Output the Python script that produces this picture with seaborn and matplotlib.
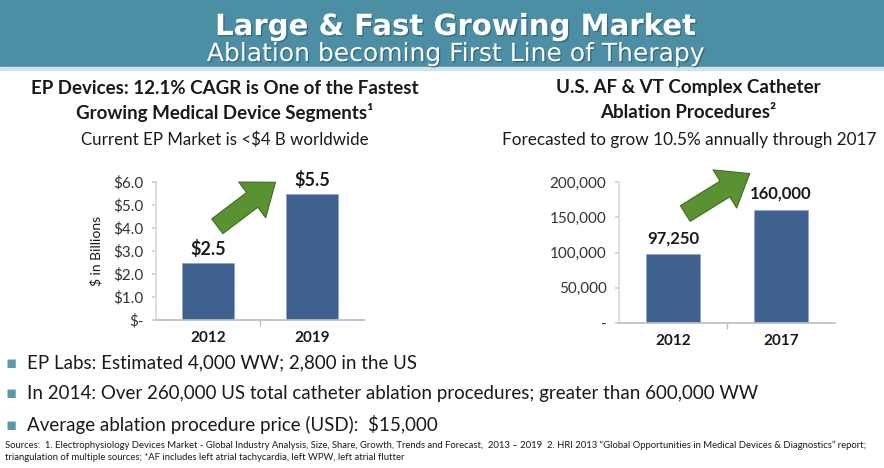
import matplotlib
matplotlib.use("Agg")
import matplotlib.pyplot as plt
import matplotlib.patheffects as pe
import seaborn as sns
from matplotlib.patches import Rectangle, FancyArrowPatch

# data
ep_years = ["2012", "2019"]
ep_values = [2.5, 5.5]
ep_ticks = [0, 1, 2, 3, 4, 5, 6]
ep_tick_labels = ["$-", "$1.0", "$2.0", "$3.0", "$4.0", "$5.0", "$6.0"]

proc_years = ["2012", "2017"]
proc_values = [97250, 160000]
proc_ticks = [0, 50000, 100000, 150000, 200000]
proc_tick_labels = ["-", "50,000", "100,000", "150,000", "200,000"]

bullets = [
    "EP Labs: Estimated 4,000 WW; 2,800 in the US",
    "In 2014: Over 260,000 US total catheter ablation procedures; greater than 600,000 WW",
    "Average ablation procedure price (USD):  $15,000",
]
sources = [
    "Sources:  1. Electrophysiology Devices Market - Global Industry Analysis, Size, Share, Growth, Trends and Forecast,  2013 \u2013 2019  "
    "2. HRI 2013 \u201cGlobal Opportunities in Medical Devices & Diagnostics\u201d report;",
    "triangulation of multiple sources; *AF includes left atrial tachycardia, left WPW, left atrial flutter",
]

sns.set_theme(style="white")
plt.rcParams["font.family"] = ["Lato", "DejaVu Sans"]

BAR = "#3f6190"
TEAL = "#4c8fa5"
TXT = "#1a1a1a"

fig = plt.figure(figsize=(8.84, 4.68), dpi=100)

# header band
fig.patches.append(Rectangle((0, 1 - 67 / 468), 1, 67 / 468, transform=fig.transFigure,
                             color=TEAL, zorder=0))
fig.patches.append(Rectangle((0, 1 - 70 / 468), 1, 3 / 468, transform=fig.transFigure,
                             color="#cfe3ea", zorder=0))
shadow = [pe.withSimplePatchShadow(offset=(1, -1), shadow_rgbFace="#2a5566", alpha=0.6)]
fig.text(0.515, 1 - 35 / 468, "Large & Fast Growing Market", ha="center", va="baseline",
         color="white", fontsize=21, fontweight="bold", family="DejaVu Sans",
         path_effects=shadow)
fig.text(0.516, 1 - 61 / 468, "Ablation becoming First Line of Therapy", ha="center",
         va="baseline", color="white", fontsize=18, family="DejaVu Sans",
         path_effects=shadow)


def style_axes(ax, ticks, labels, top):
    ax.set_ylim(0, top)
    ax.set_xlim(-0.5, 1.5)
    ax.set_yticks(ticks)
    ax.set_yticklabels(labels, fontsize=11, color="#333333")
    ax.set_xlabel("")
    ax.tick_params(axis="x", length=0, labelsize=11, pad=8)
    for lbl in ax.get_xticklabels():
        lbl.set_fontweight("bold")
        lbl.set_color(TXT)
    ax.set_xticks([0.5], minor=True)
    ax.tick_params(axis="x", which="minor", length=4, color="#bfbfbf", bottom=True)
    ax.tick_params(axis="y", length=3, color="#d0d0d0", left=True, pad=6)
    sns.despine(ax=ax)
    ax.spines["left"].set_color("#d9d9d9")
    ax.spines["bottom"].set_color("#bfbfbf")


def green_arrow(ax, start, end):
    arr = FancyArrowPatch(start, end, transform=ax.transAxes,
                          arrowstyle="simple,head_length=1.5,head_width=2.3,tail_width=0.95",
                          mutation_scale=14, facecolor="#5b9231", edgecolor="#3f6b20",
                          linewidth=0.8, clip_on=False, zorder=5)
    ax.add_patch(arr)


# left chart
ax1 = fig.add_axes([156 / 884, 1 - 320 / 468, 208 / 884, 138 / 468])
sns.barplot(x=ep_years, y=ep_values, color=BAR, width=0.5, saturation=1,
            edgecolor="#8fa8c8", linewidth=0.6, ax=ax1)
style_axes(ax1, ep_ticks, ep_tick_labels, 6)
ax1.bar_label(ax1.containers[0], labels=[f"${v:.1f}" for v in ep_values],
              fontsize=13, fontweight="bold", color=TXT, padding=3)
ax1.set_ylabel("$ in Billions", fontsize=10, color=TXT, labelpad=8)
green_arrow(ax1, (0.284, 0.667), (0.585, 1.01))

fig.text(225 / 884, 1 - 88 / 468, "EP Devices: 12.1% CAGR is One of the Fastest",
         ha="center", va="center", fontsize=13.5, fontweight="bold", color=TXT)
fig.text(225 / 884, 1 - 113 / 468, "Growing Medical Device Segments\u00b9",
         ha="center", va="center", fontsize=13.5, fontweight="bold", color=TXT)
fig.text(225 / 884, 1 - 140 / 468, "Current EP Market is <$4 B worldwide",
         ha="center", va="center", fontsize=12.2, color=TXT)

# right chart
ax2 = fig.add_axes([619 / 884, 1 - 323 / 468, 216 / 884, 141 / 468])
sns.barplot(x=proc_years, y=proc_values, color=BAR, width=0.5, saturation=1,
            edgecolor="#8fa8c8", linewidth=0.6, ax=ax2)
style_axes(ax2, proc_ticks, proc_tick_labels, 200000)
ax2.bar_label(ax2.containers[0], labels=[f"{v:,}" for v in proc_values],
              fontsize=12, fontweight="bold", color=TXT, padding=6)
ax2.set_ylabel("")
green_arrow(ax2, (0.296, 0.766), (0.616, 1.07))

fig.text(688 / 884, 1 - 88 / 468, "U.S. AF & VT Complex Catheter",
         ha="center", va="center", fontsize=13.5, fontweight="bold", color=TXT)
fig.text(688 / 884, 1 - 113 / 468, "Ablation Procedures\u00b2",
         ha="center", va="center", fontsize=13.5, fontweight="bold", color=TXT)
fig.text(689 / 884, 1 - 140 / 468, "Forecasted to grow 10.5% annually through 2017",
         ha="center", va="center", fontsize=12.3, color=TXT)

# bullets
for txt, ypx in zip(bullets, [363, 393, 425]):
    y = 1 - ypx / 468
    fig.text(11 / 884, y, "\u25aa", ha="center", va="center", fontsize=12,
             color="#5b9aa9", family="DejaVu Sans")
    fig.text(27 / 884, y, txt, ha="left", va="center", fontsize=13.5, color=TXT)

fig.text(5 / 884, 1 - 445 / 468, sources[0], ha="left", va="center", fontsize=6.8, color=TXT)
fig.text(5 / 884, 1 - 458 / 468, sources[1], ha="left", va="center", fontsize=6.8, color=TXT)

fig.savefig("out.png", dpi=100)
